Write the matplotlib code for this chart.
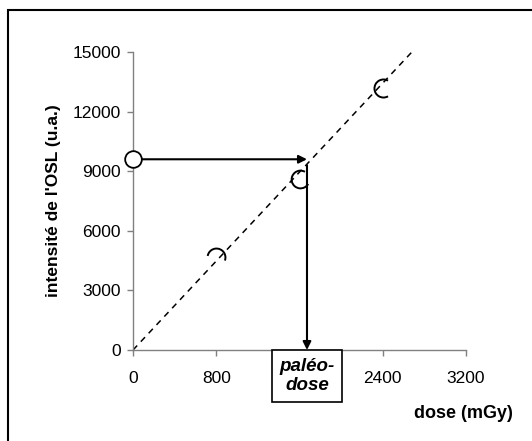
import numpy as np
import matplotlib
matplotlib.use("Agg")
import matplotlib.pyplot as plt
from matplotlib.path import Path
from matplotlib.patches import Rectangle

plt.rcParams['font.family'] = ['Liberation Sans', 'DejaVu Sans']

# data
dose = [800, 1600, 2400]
osl = [4700, 8600, 13200]
fit_x = [0, 2680]
fit_y = [0, 15000]
natural_osl = 9600
paleodose = 1672
xticks = [0, 800, 1600, 2400, 3200]
xticklabels = ['0', '800', '', '2400', '3200']
yticks = [0, 3000, 6000, 9000, 12000, 15000]

fig = plt.figure(figsize=(5.32, 4.41), dpi=100)
ax = fig.add_axes([133/532, 1-350/441, 333/532, 298/441])

# outer frame
fig.patches.append(Rectangle((8/532, -0.1), 1.2, (441-10)/441 + 0.1,
                             transform=fig.transFigure, fill=False,
                             edgecolor='black', linewidth=1.5))

ax.plot(fit_x, fit_y, linestyle=(0, (4, 3.5)), color='black', linewidth=1.1, zorder=2)

arcs = [Path.arc(-20, 170), Path.arc(60, 330), Path.arc(60, 300)]
for x, y, p in zip(dose, osl, arcs):
    ax.plot([x], [y], marker=p, markersize=13, markerfacecolor='none',
            markeredgecolor='black', markeredgewidth=1.4, linestyle='none', zorder=3)

# horizontal arrow
ax.annotate('', xy=(paleodose, natural_osl), xytext=(0, natural_osl),
            arrowprops=dict(arrowstyle='-|>', color='black', lw=1.5,
                            mutation_scale=12, shrinkA=0, shrinkB=0), zorder=4)
# vertical arrow
ax.annotate('', xy=(paleodose, 0), xytext=(paleodose, natural_osl - 300),
            arrowprops=dict(arrowstyle='-|>', color='black', lw=1.5,
                            mutation_scale=12, shrinkA=0, shrinkB=0), zorder=4)

ax.plot([0], [natural_osl], marker='o', markersize=12, markerfacecolor='white',
        markeredgecolor='black', markeredgewidth=1.3, clip_on=False, zorder=5)

ax.set_xlim(0, 3200)
ax.set_ylim(0, 15000)
ax.set_xticks(xticks)
ax.set_xticklabels(xticklabels)
ax.set_yticks(yticks)
for s in ['top', 'right']:
    ax.spines[s].set_visible(False)
for s in ['left', 'bottom']:
    ax.spines[s].set_color('#808080')
    ax.spines[s].set_linewidth(1.0)
ax.tick_params(axis='both', colors='#808080', labelcolor='black', labelsize=12.5,
               length=4, width=1.0, direction='out')
ax.tick_params(axis='x', pad=11)
ax.tick_params(axis='y', pad=5)

ax.set_ylabel("intensité de l'OSL (u.a.)", fontsize=12.5, fontweight='bold', labelpad=8)
fig.text(513/532, 1-413/441, 'dose (mGy)', fontsize=13, fontweight='bold',
         ha='right', va='center')

ax.annotate('paléo-\ndose', xy=(paleodose, 0), xytext=(0, -5.5), textcoords='offset points',
            ha='center', va='top', fontsize=13.5, fontweight='bold', style='italic',
            linespacing=1.2, annotation_clip=False,
            bbox=dict(boxstyle='square,pad=0.4', facecolor='white', edgecolor='black',
                      linewidth=1.2), zorder=6)

fig.savefig('out.png', dpi=100)
